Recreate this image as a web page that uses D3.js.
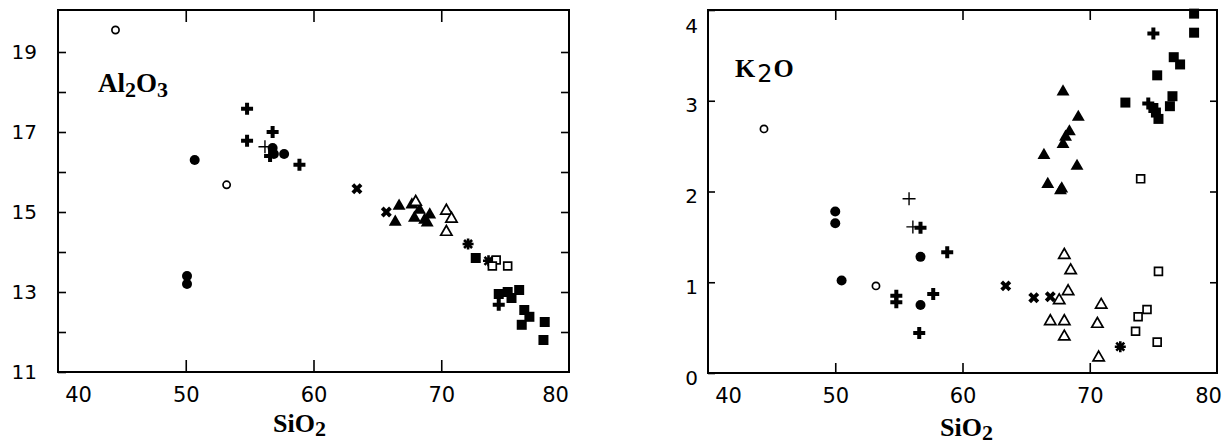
<!DOCTYPE html>
<html>
<head>
<meta charset="utf-8">
<script src="https://cdn.jsdelivr.net/npm/d3@7"></script>
<style>
  body { margin: 0; background: #fff; }
  .tick text { font-family: "DejaVu Sans", sans-serif; font-size: 20px; fill: #000; }
  .lbl { font-family: "Liberation Serif", "Times New Roman", serif; font-weight: bold; fill: #000; }
</style>
</head>
<body>
<div id="chart"></div>
<script>
// DATA
// left panel : Al2O3 vs SiO2
let AL_SIO2  = [44.5, 50.7, 53.2, 50.1, 50.1, 54.8, 54.8, 56.8, 56.2, 56.8, 56.9, 56.6, 57.7, 58.9,
                63.4, 65.7, 66.4, 66.7, 67.7, 68.3, 67.9, 68.7, 69.1, 68.9, 68.0, 70.4, 70.8, 70.4,
                72.1, 72.7, 73.7, 74.3, 74.0, 75.2, 75.2, 74.5, 75.5, 76.1, 76.5, 76.9, 76.3, 78.1, 78.0, 74.5]
let AL_VALUE = [19.55, 16.3, 15.68, 13.2, 13.4, 17.58, 16.78, 17.0, 16.63, 16.6, 16.45, 16.4, 16.45, 16.18,
                15.58, 15.0, 14.75, 15.15, 15.18, 15.05, 14.85, 14.8, 14.93, 14.73, 15.25, 15.03, 14.83, 14.5,
                14.2, 13.85, 13.78, 13.8, 13.65, 13.65, 13.0, 12.95, 12.85, 13.05, 12.55, 12.38, 12.18, 12.25, 11.8, 12.68]
let AL_TYPE  = ["openCircle", "filledCircle", "openCircle", "filledCircle", "filledCircle", "boldPlus", "boldPlus", "boldPlus", "plus", "filledCircle", "filledCircle", "boldPlus", "filledCircle", "boldPlus",
                "cross", "cross", "filledTri", "filledTri", "filledTri", "filledTri", "filledTri", "filledTri", "filledTri", "filledTri", "openTri", "openTri", "openTri", "openTri",
                "asterisk", "filledSq", "asterisk", "openSq", "openSq", "openSq", "filledSq", "filledSq", "filledSq", "filledSq", "filledSq", "filledSq", "filledSq", "filledSq", "filledSq", "boldPlus"]

// right panel : K2O vs SiO2
let K_SIO2  = [44.4, 50.0, 50.0, 50.5, 53.2, 54.8, 54.8, 55.8, 56.1, 56.7, 56.7, 56.7, 56.6, 57.7, 58.8,
               63.4, 65.6, 66.9, 67.6, 68.0, 68.5, 68.3, 66.9, 68.0, 68.0, 70.9, 70.6, 70.7,
               72.4, 75.4, 74.5, 73.8, 73.6, 75.3, 74.0,
               67.9, 69.1, 68.4, 68.1, 67.9, 66.4, 69.0, 66.7, 67.8, 67.7,
               78.2, 78.2, 76.6, 77.1, 75.3, 72.8, 76.5, 76.3, 74.6, 75.0, 75.2, 75.4, 75.0]
let K_VALUE = [2.69, 1.78, 1.65, 1.02, 0.96, 0.85, 0.78, 1.92, 1.61, 1.60, 1.28, 0.75, 0.44, 0.87, 1.33,
               0.96, 0.83, 0.84, 0.80, 1.30, 1.13, 0.90, 0.57, 0.57, 0.40, 0.75, 0.54, 0.17,
               0.29, 1.12, 0.70, 0.62, 0.46, 0.34, 2.14,
               3.10, 2.82, 2.66, 2.60, 2.52, 2.40, 2.28, 2.08, 2.03, 2.01,
               3.96, 3.75, 3.48, 3.40, 3.28, 2.98, 3.05, 2.94, 2.97, 2.92, 2.87, 2.80, 3.74]
let K_TYPE  = ["openCircle", "filledCircle", "filledCircle", "filledCircle", "openCircle", "boldPlus", "boldPlus", "plus", "plus", "boldPlus", "filledCircle", "filledCircle", "boldPlus", "boldPlus", "boldPlus",
               "cross", "cross", "cross", "openTri", "openTri", "openTri", "openTri", "openTri", "openTri", "openTri", "openTri", "openTri", "openTri",
               "asterisk", "openSq", "openSq", "openSq", "openSq", "openSq", "openSq",
               "filledTri", "filledTri", "filledTri", "filledTri", "filledTri", "filledTri", "filledTri", "filledTri", "filledTri", "filledTri",
               "filledSq", "filledSq", "filledSq", "filledSq", "filledSq", "filledSq", "filledSq", "filledSq", "boldPlus", "filledSq", "filledSq", "filledSq", "boldPlus"]

let X_TICKS = [40, 50, 60, 70, 80]


function addPoints(g, x, y, xs, ys, types) {
    let pts = xs.map(function (v, i) { return { x: v, y: ys[i], type: types[i] } })
    let sel = g.selectAll("myPoints")
        .data(pts)
        .enter()
        .append("g")
        .attr("transform", function (d) { return "translate(" + x(d.x) + "," + y(d.y) + ")" })

    sel.each(function (d) {
        let m = d3.select(this)
        if (d.type == "openCircle") {
            m.append("circle").attr("r", 3.6).attr("fill", "#fff").attr("stroke", "#000").attr("stroke-width", 1.7)
        } else if (d.type == "filledCircle") {
            m.append("circle").attr("r", 5).attr("fill", "#000")
        } else if (d.type == "plus") {
            m.append("path").attr("d", "M-6.5,0H6.5M0,-6.5V6.5").attr("stroke", "#000").attr("stroke-width", 1.4)
        } else if (d.type == "boldPlus") {
            m.append("path").attr("d", d3.symbol(d3.symbolCross, 80)()).attr("fill", "#000")
        } else if (d.type == "cross") {
            m.append("path").attr("d", d3.symbol(d3.symbolCross, 75)()).attr("fill", "#000").attr("transform", "rotate(45)")
        } else if (d.type == "asterisk") {
            m.append("path").attr("d", "M-5.5,0H5.5M0,-5.5V5.5M-4,-4L4,4M-4,4L4,-4")
                .attr("stroke", "#000").attr("stroke-width", 2.6)
        } else if (d.type == "filledTri") {
            m.append("path").attr("d", d3.symbol(d3.symbolTriangle, 72)()).attr("fill", "#000")
        } else if (d.type == "openTri") {
            m.append("path").attr("d", d3.symbol(d3.symbolTriangle, 55)()).attr("fill", "#fff").attr("stroke", "#000").attr("stroke-width", 1.7)
        } else if (d.type == "filledSq") {
            m.append("path").attr("d", d3.symbol(d3.symbolSquare, 100)()).attr("fill", "#000")
        } else if (d.type == "openSq") {
            m.append("path").attr("d", d3.symbol(d3.symbolSquare, 62)()).attr("fill", "#fff").attr("stroke", "#000").attr("stroke-width", 1.7)
        }
    })
}

function addFrame(svg, x, y, opt) {
    let x0 = x.range()[0], x1 = x.range()[1], y0 = y.range()[0], y1 = y.range()[1]

    // left axis with labels
    let left = svg.append("g")
        .attr("transform", "translate(" + x0 + ",0)")
        .call(d3.axisLeft(y).tickValues(opt.yTicks).tickSize(-opt.yTickLen).tickPadding(opt.yPad).tickFormat(opt.yFormat))
    left.select(".domain").remove()
    left.selectAll(".tick text").attr("dy", opt.yDy)
    if (opt.topLabelDy) left.selectAll(".tick text").filter(function (d) { return d == y.domain()[1] }).attr("dy", opt.topLabelDy)

    // right side ticks
    let right = svg.append("g")
        .attr("transform", "translate(" + x1 + ",0)")
        .call(d3.axisRight(y).tickValues(opt.yInner).tickSize(-opt.yTickLen).tickFormat(""))
    right.select(".domain").remove()

    // bottom axis with labels
    let bottom = svg.append("g")
        .attr("transform", "translate(0," + y0 + ")")
        .call(d3.axisBottom(x).tickValues(X_TICKS).tickSize(0).tickPadding(opt.xPad))
    bottom.select(".domain").remove()
    bottom.selectAll(".tick text").style("font-size", "21px")
    bottom.selectAll(".tick text").filter(function (d) { return d == 40 }).attr("dx", 20)
    bottom.selectAll(".tick text").filter(function (d) { return d == 80 }).attr("dx", opt.lastDx)

    let inner = svg.append("g")
        .attr("transform", "translate(0," + y0 + ")")
        .call(d3.axisBottom(x).tickValues([50, 60, 70]).tickSize(-opt.xTickLen).tickFormat(""))
    inner.select(".domain").remove()

    let top = svg.append("g")
        .attr("transform", "translate(0," + y1 + ")")
        .call(d3.axisTop(x).tickValues([50, 60, 70]).tickSize(-opt.xTickLen).tickFormat(""))
    top.select(".domain").remove()

    svg.selectAll(".tick line").attr("stroke", "#000").attr("stroke-width", 1.6)

    svg.append("rect")
        .attr("x", x0).attr("y", y1)
        .attr("width", x1 - x0).attr("height", y0 - y1)
        .attr("fill", "none").attr("stroke", "#000").attr("stroke-width", 2)
}


// MAIN SCRIPT
let svg = d3.select("#chart")
    .append("svg")
    .attr("width", 1226)
    .attr("height", 445)

// left panel
let xL = d3.scaleLinear().domain([40, 80]).range([58, 569])
let yL = d3.scaleLinear().domain([11, 20.05]).range([372, 10])
let gL = svg.append("g")
addFrame(gL, xL, yL, {
    yTicks: d3.range(11, 20), yInner: d3.range(12, 20), yTickLen: 8, yPad: 21, yDy: "0.32em",
    yFormat: function (d) { return d % 2 == 1 ? d : "" },
    xPad: 15, xTickLen: 12, lastDx: -14
})
addPoints(gL, xL, yL, AL_SIO2, AL_VALUE, AL_TYPE)

let tAl = gL.append("text").attr("class", "lbl").attr("x", 98).attr("y", 92).style("font-size", "27px")
tAl.append("tspan").text("Al")
tAl.append("tspan").text("2").attr("dy", 5).style("font-size", "22px")
tAl.append("tspan").text("O").attr("dy", -5)
tAl.append("tspan").text("3").attr("dy", 5).style("font-size", "22px")

let sL = gL.append("text").attr("class", "lbl").attr("x", 273).attr("y", 432).style("font-size", "26px")
sL.append("tspan").text("SiO")
sL.append("tspan").text("2").attr("dy", 4).style("font-size", "22px")

// right panel
let xR = d3.scaleLinear().domain([40, 80]).range([708, 1217])
let yR = d3.scaleLinear().domain([0, 4]).range([373, 10])
let gR = svg.append("g")
addFrame(gR, xR, yR, {
    yTicks: [0, 1, 2, 3, 4], yInner: [1, 2, 3], yTickLen: 7, yPad: 10, yDy: "0.55em",
    yFormat: d3.format("d"), topLabelDy: "1.1em",
    xPad: 15, xTickLen: 10, lastDx: -9
})
addPoints(gR, xR, yR, K_SIO2, K_VALUE, K_TYPE)

let tK = gR.append("text").attr("class", "lbl").attr("x", 735).attr("y", 77).style("font-size", "26px")
tK.append("tspan").text("K")
tK.append("tspan").text("2").attr("dy", 5).attr("dx", 2).style("font-size", "24px").style("font-family", "DejaVu Sans").style("font-weight", "normal")
tK.append("tspan").text("O").attr("dy", -5).attr("dx", 1)

let sR = gR.append("text").attr("class", "lbl").attr("x", 940).attr("y", 436).style("font-size", "26px")
sR.append("tspan").text("SiO")
sR.append("tspan").text("2").attr("dy", 4).style("font-size", "22px")
</script>
</body>
</html>
